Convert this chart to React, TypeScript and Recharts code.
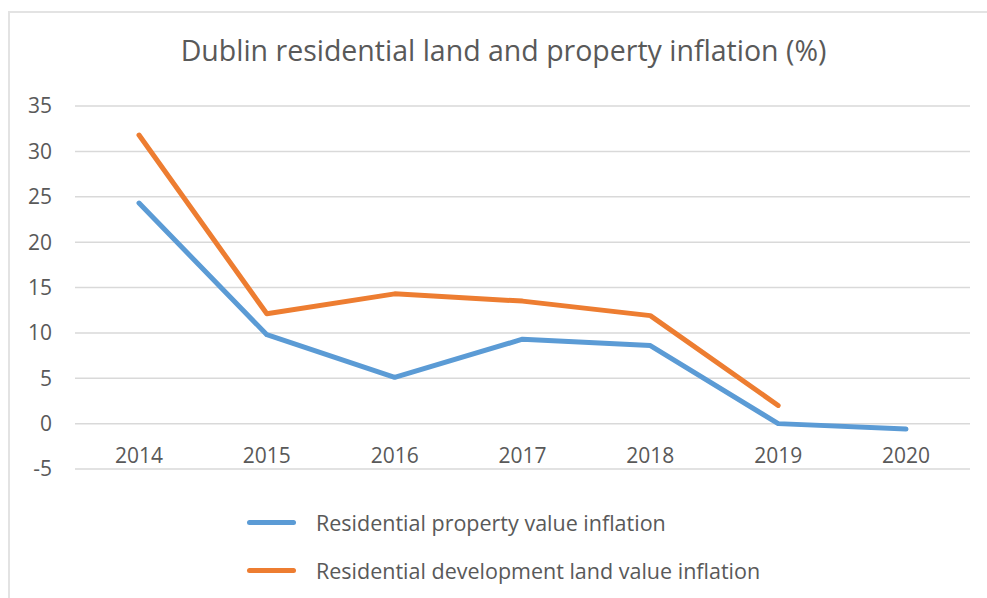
import { LineChart, Line, XAxis, YAxis, CartesianGrid } from 'recharts';

const years = ['2014', '2015', '2016', '2017', '2018', '2019', '2020'];
const propertyInflation = [24.3, 9.8, 5.1, 9.3, 8.6, 0, -0.6];
const landInflation: (number | null)[] = [31.8, 12.1, 14.3, 13.5, 11.9, 2.0, null];
const yTicks = [-5, 0, 5, 10, 15, 20, 25, 30, 35];

const seriesInfo = [
  { key: 'property', name: 'Residential property value inflation', color: '#5B9BD5' },
  { key: 'land', name: 'Residential development land value inflation', color: '#ED7D31' },
];

const chartData = years.map((year, i) => ({
  year,
  property: propertyInflation[i],
  land: landInflation[i],
}));

const FONT = '"Open Sans", sans-serif';
const TEXT = '#595959';

function YearTick({ x, y, payload }: { x?: number; y?: number; payload?: { value: string } }) {
  return (
    <text x={x} y={(y ?? 0) - 12} textAnchor="middle" dominantBaseline="middle" fill={TEXT} fontSize={21} fontFamily={FONT}>
      {payload?.value}
    </text>
  );
}

function LegendBox() {
  return (
    <div style={{ position: 'absolute', left: 247, top: 498, fontFamily: FONT, color: TEXT, fontSize: 21.5 }}>
      {seriesInfo.map(s => (
        <div key={s.key} style={{ display: 'flex', alignItems: 'center', height: 48 }}>
          <span style={{ display: 'inline-block', width: 49, height: 5, borderRadius: 3, background: s.color, marginRight: 20 }} />
          <span>{s.name}</span>
        </div>
      ))}
    </div>
  );
}

export default function App() {
  return (
    <div style={{ position: 'absolute', left: 0, top: 0, width: 987, height: 598, background: '#fff', overflow: 'hidden' }}>
      <div style={{ position: 'absolute', left: 8, top: 11, width: 979, height: 587, borderTop: '2px solid #e3e3e3', borderLeft: '2px solid #e3e3e3' }} />
      <div style={{ position: 'absolute', left: 10, top: 31, width: 987, textAlign: 'center', fontFamily: FONT, fontSize: 28.5, color: TEXT }}>
        Dublin residential land and property inflation (%)
      </div>
      <LineChart width={987} height={598} data={chartData} margin={{ top: 106, right: 17, left: 15, bottom: 99 }}>
        <CartesianGrid vertical={false} stroke="#d9d9d9" strokeWidth={1.5} />
        <XAxis
          dataKey="year"
          axisLine={false}
          tickLine={false}
          tickSize={0}
          tickMargin={0}
          height={30}
          padding={{ left: 64, right: 64 }}
          tick={<YearTick />}
          interval={0}
        />
        <YAxis
          domain={[-5, 35]}
          ticks={yTicks}
          axisLine={false}
          tickLine={false}
          tickSize={0}
          tickMargin={23}
          width={60}
          tick={{ fill: TEXT, fontSize: 21, fontFamily: FONT }}
        />
        {seriesInfo.map(s => (
          <Line
            key={s.key}
            type="linear"
            dataKey={s.key}
            name={s.name}
            stroke={s.color}
            strokeWidth={5}
            strokeLinecap="round"
            strokeLinejoin="round"
            dot={false}
            isAnimationActive={false}
          />
        ))}
      </LineChart>
      <LegendBox />
    </div>
  );
}
